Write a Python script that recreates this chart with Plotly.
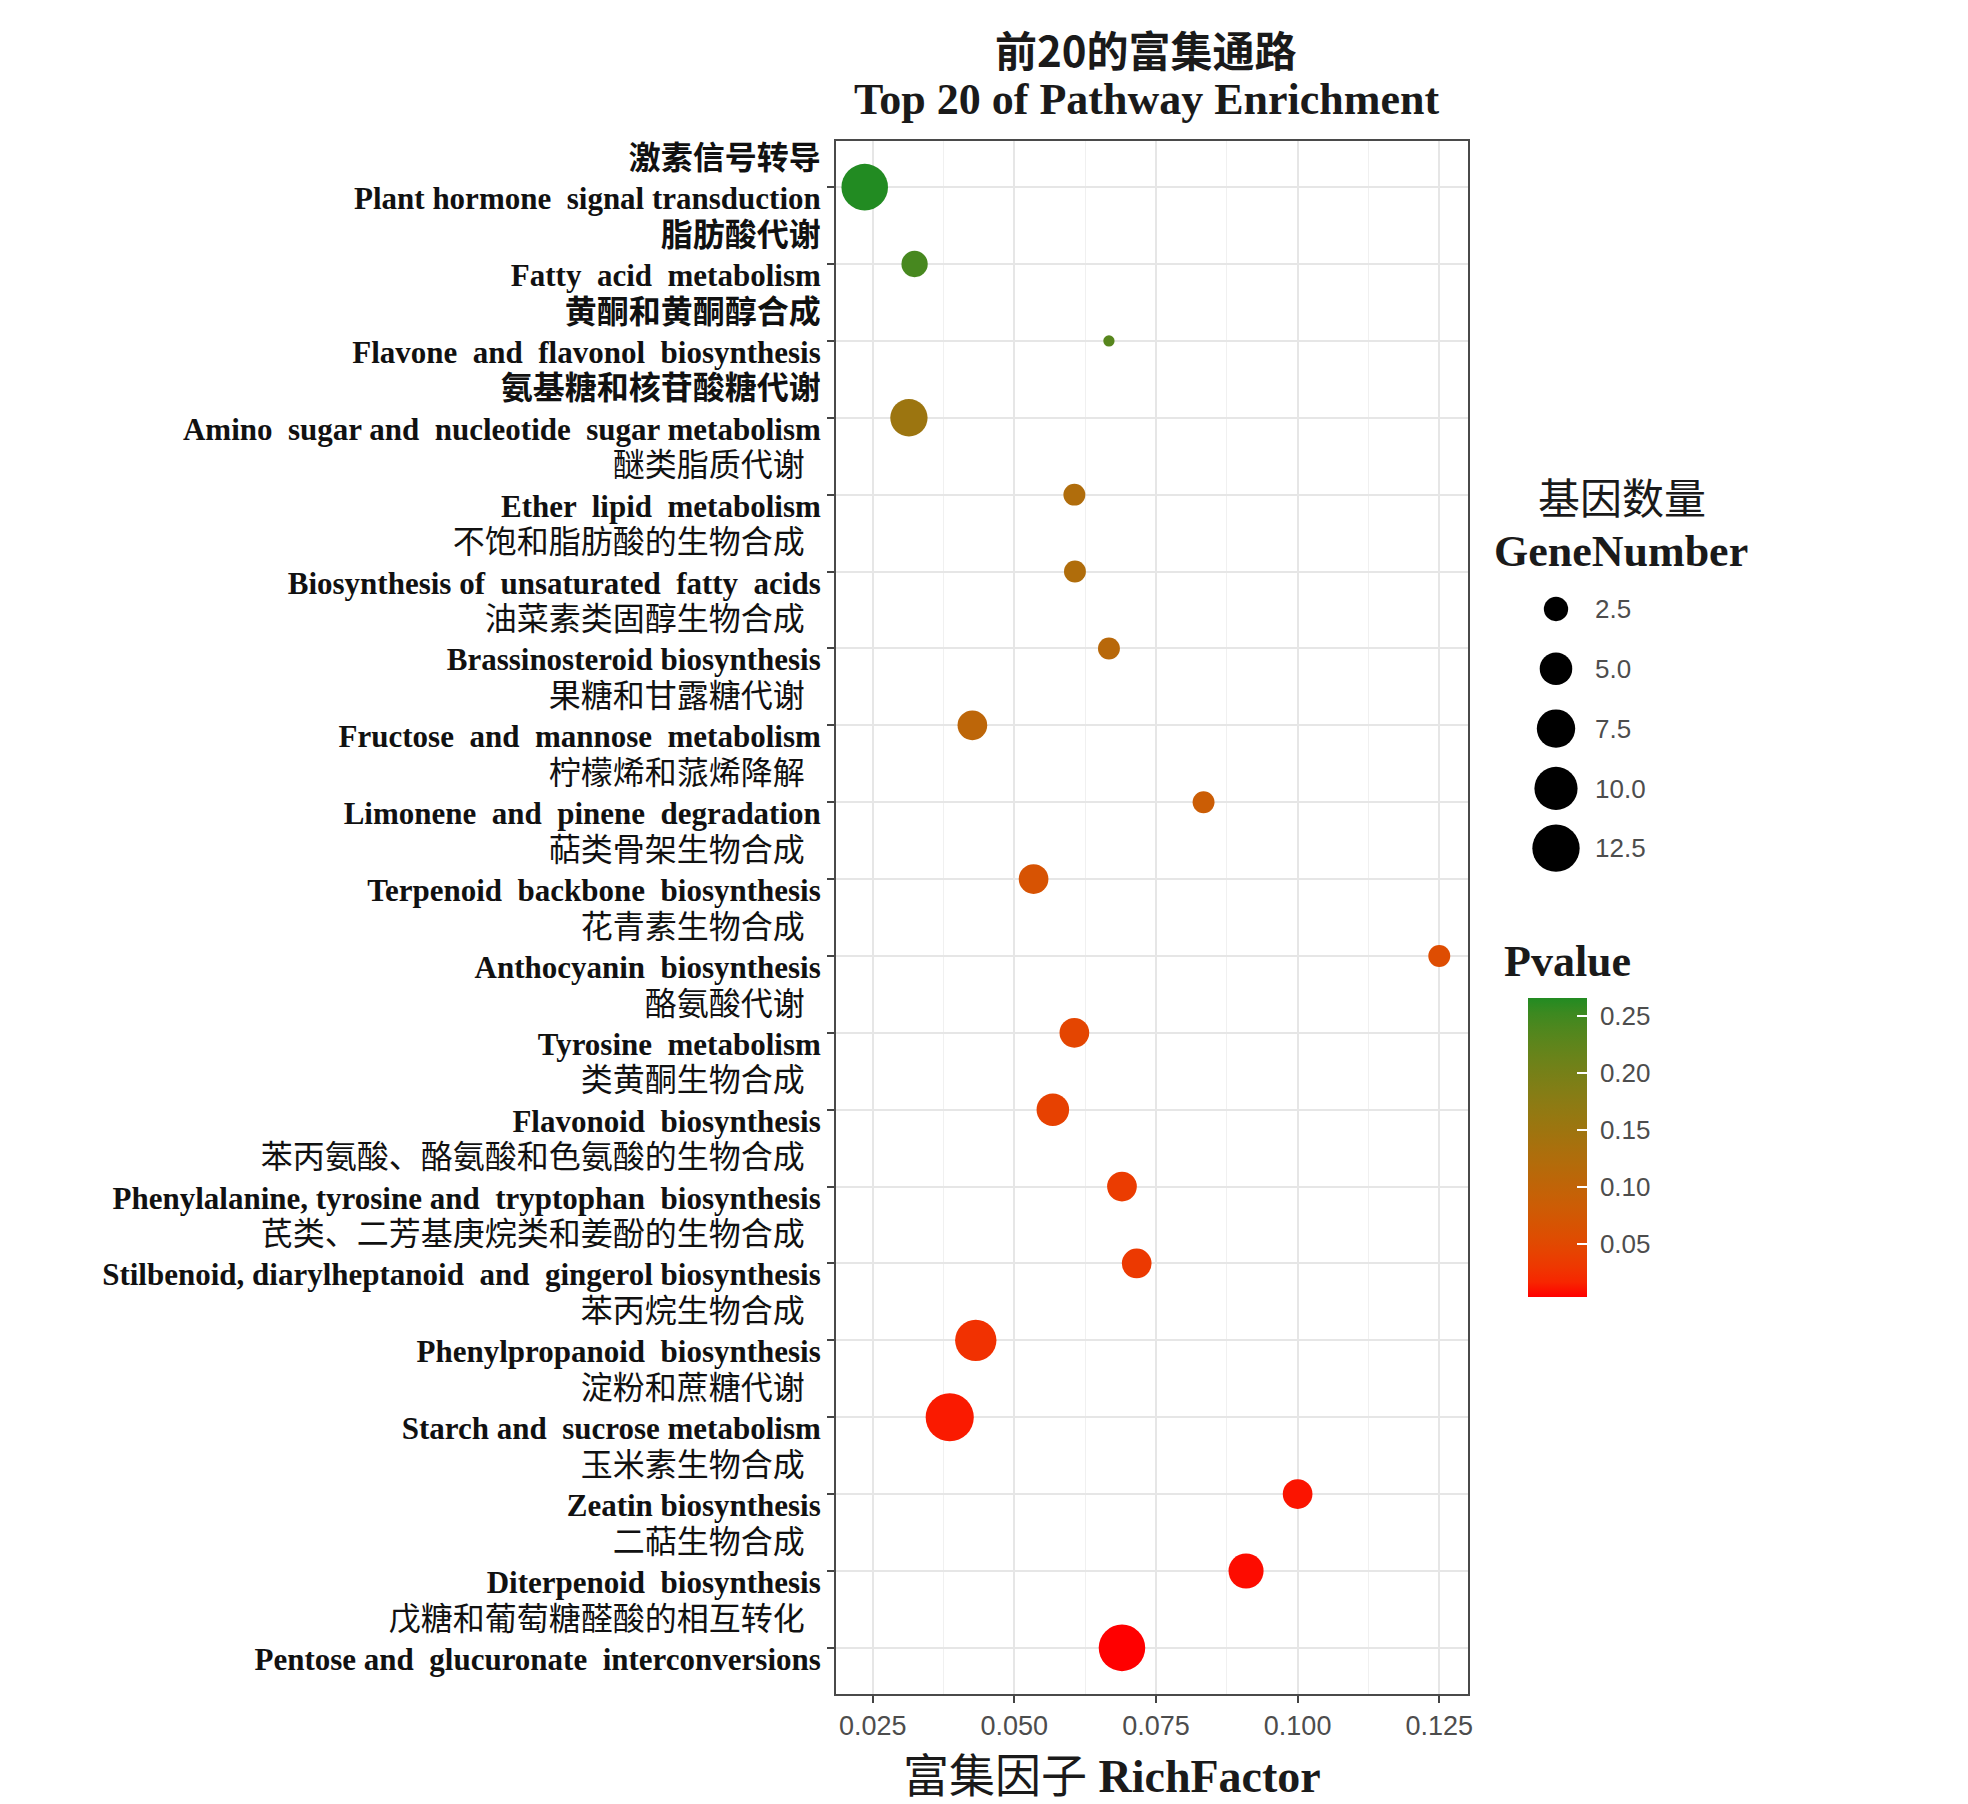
import numpy as np
import plotly.graph_objects as go

# ---------------- data (top row first) ----------------
pathways_cn = [
    "激素信号转导", "脂肪酸代谢", "黄酮和黄酮醇合成", "氨基糖和核苷酸糖代谢",
    "醚类脂质代谢", "不饱和脂肪酸的生物合成", "油菜素类固醇生物合成", "果糖和甘露糖代谢",
    "柠檬烯和蒎烯降解", "萜类骨架生物合成", "花青素生物合成", "酪氨酸代谢",
    "类黄酮生物合成", "苯丙氨酸、酪氨酸和色氨酸的生物合成", "芪类、二芳基庚烷类和姜酚的生物合成",
    "苯丙烷生物合成", "淀粉和蔗糖代谢", "玉米素生物合成", "二萜生物合成",
    "戊糖和葡萄糖醛酸的相互转化",
]
pathways_en = [
    "Plant hormone  signal transduction", "Fatty  acid  metabolism",
    "Flavone  and  flavonol  biosynthesis", "Amino  sugar and  nucleotide  sugar metabolism",
    "Ether  lipid  metabolism", "Biosynthesis of  unsaturated  fatty  acids",
    "Brassinosteroid biosynthesis", "Fructose  and  mannose  metabolism",
    "Limonene  and  pinene  degradation", "Terpenoid  backbone  biosynthesis",
    "Anthocyanin  biosynthesis", "Tyrosine  metabolism", "Flavonoid  biosynthesis",
    "Phenylalanine, tyrosine and  tryptophan  biosynthesis",
    "Stilbenoid, diarylheptanoid  and  gingerol biosynthesis",
    "Phenylpropanoid  biosynthesis", "Starch and  sucrose metabolism",
    "Zeatin biosynthesis", "Diterpenoid  biosynthesis",
    "Pentose and  glucuronate  interconversions",
]
rich_factor = [0.0236, 0.0324, 0.0667, 0.0314, 0.0606, 0.0607, 0.0667, 0.0426, 0.0834, 0.0534,
               0.1250, 0.0606, 0.0568, 0.0690, 0.0716, 0.0432, 0.0386, 0.1000, 0.0909, 0.0690]
gene_number = [12, 3, 1, 7, 2, 2, 2, 4, 2, 4, 2, 4, 5, 4, 4, 9, 13, 4, 6, 12]
p_value = [0.266, 0.245, 0.232, 0.152, 0.125, 0.124, 0.112, 0.105, 0.085, 0.066,
           0.055, 0.045, 0.040, 0.035, 0.032, 0.025, 0.012, 0.010, 0.007, 0.003]

x_ticks = [0.025, 0.050, 0.075, 0.100, 0.125]
size_legend_values = [2.5, 5.0, 7.5, 10.0, 12.5]
colorbar_ticks = [0.05, 0.10, 0.15, 0.20, 0.25]

# ---------------- layout geometry (pixels) ----------------
W, H = 1968, 1804
PL, PR, PT, PB = 836, 1468, 141, 1694


def fx(px):
    return px / W


def fy(py):
    return 1 - py / H


# ---------------- size scale (ggplot-like area palette) ----------------
nmin, nmax = min(gene_number), max(gene_number)


def dot_size(n):
    n = np.asarray(n, dtype=float)
    return 11.3 + 36.8 * np.sqrt(np.clip((n - nmin) / (nmax - nmin), 0, None))


# ---------------- colour scale (Lab interpolation red -> forestgreen) ----------------
M = np.array([[0.4124, 0.3576, 0.1805], [0.2126, 0.7152, 0.0722], [0.0193, 0.1192, 0.9505]])
WHITE = M @ np.ones(3)


def _lin(c):
    c = np.asarray(c, float) / 255
    return np.where(c <= 0.04045, c / 12.92, ((c + 0.055) / 1.055) ** 2.4)


def _delin(c):
    c = np.clip(c, 0, 1)
    return np.where(c <= 0.0031308, 12.92 * c, 1.055 * c ** (1 / 2.4) - 0.055) * 255


def _f(t):
    d = 6 / 29
    return np.where(t > d ** 3, np.cbrt(t), t / (3 * d * d) + 4 / 29)


def _finv(t):
    d = 6 / 29
    return np.where(t > d, t ** 3, 3 * d * d * (t - 4 / 29))


def rgb2lab(rgb):
    xyz = M @ _lin(rgb)
    a, b, c = _f(xyz / WHITE)
    return np.array([116 * b - 16, 500 * (a - b), 200 * (b - c)])


def lab2rgb(lab):
    L, a, b = lab
    fyv = (L + 16) / 116
    xyz = WHITE * np.array([_finv(fyv + a / 500), _finv(fyv), _finv(fyv - b / 200)])
    return _delin(np.linalg.solve(M, xyz))


low_lab, high_lab = rgb2lab([255, 0, 0]), rgb2lab([34, 139, 34])
colorscale = []
for t in np.linspace(0, 1, 21):
    r, g, b = lab2rgb(low_lab + (high_lab - low_lab) * t)
    colorscale.append([float(t), f"rgb({int(round(r))},{int(round(g))},{int(round(b))})"])

# ---------------- tick labels ----------------
ticktext = []
for i, (cn, en) in enumerate(zip(pathways_cn, pathways_en)):
    cn_html = f"<b>{cn}</b>" if i < 4 else cn + "\u00a0\u00a0"
    ticktext.append(f"<span style='font-size:32px'>{cn_html}</span><br><b>{en}</b>")

SERIF = "Liberation Serif, Noto Sans CJK SC, serif"
SANS = "Liberation Sans, Arial, sans-serif"
CJK = "Noto Sans CJK SC, sans-serif"

xr = max(rich_factor) - min(rich_factor)
x_range = [min(rich_factor) - 0.05 * xr, max(rich_factor) + 0.05 * xr]
ncat = len(pathways_en)

fig = go.Figure()

fig.add_trace(go.Scatter(
    x=rich_factor, y=pathways_en, mode="markers",
    marker=dict(
        size=dot_size(gene_number), sizemode="diameter",
        color=p_value, colorscale=colorscale,
        cmin=min(p_value), cmax=max(p_value),
        line=dict(width=0), opacity=1,
        colorbar=dict(
            thickness=59, thicknessmode="pixels", len=299, lenmode="pixels",
            x=fx(1528), xanchor="left", y=fy(998), yanchor="top",
            xpad=0, ypad=0, outlinewidth=0,
            tickvals=colorbar_ticks, ticktext=["\u00a0" + f"{v:.2f}" for v in colorbar_ticks],
            ticks="inside", ticklen=10, tickwidth=2, tickcolor="white",
            tickfont=dict(family=SANS, size=26, color="#4d4d4d"),
        ),
    ),
    showlegend=False, hoverinfo="skip",
))

# size legend keys on their own small axes
fig.add_trace(go.Scatter(
    x=["GeneNumber"] * len(size_legend_values), y=size_legend_values, mode="markers",
    marker=dict(size=dot_size(size_legend_values), sizemode="diameter", color="#000000",
                opacity=1, line=dict(width=0)),
    xaxis="x2", yaxis="y2", showlegend=False, hoverinfo="skip",
))

step = size_legend_values[1] - size_legend_values[0]

fig.update_layout(
    width=W, height=H, template="none",
    margin=dict(l=0, r=0, t=0, b=0),
    paper_bgcolor="white", plot_bgcolor="white",
    xaxis=dict(
        domain=[fx(PL), fx(PR)], range=x_range, anchor="y",
        tickvals=x_ticks, ticktext=[f"{v:.3f}" for v in x_ticks],
        tickfont=dict(family=SANS, size=27, color="#4d4d4d"),
        ticks="outside", ticklen=7, tickwidth=2, tickcolor="#444444",
        showgrid=True, gridcolor="#e6e6e6", gridwidth=2,
        minor=dict(dtick=0.0125, tick0=0.0125, showgrid=True, gridcolor="#f0f0f0", gridwidth=1),
        showline=True, mirror=True, linecolor="#4a4a4a", linewidth=2,
        zeroline=False, automargin=False,
    ),
    yaxis=dict(
        domain=[fy(PB), fy(PT)], anchor="x",
        type="category", categoryorder="array", categoryarray=pathways_en,
        range=[ncat - 1 + 0.6, -0.6],
        tickvals=pathways_en, ticktext=ticktext,
        tickfont=dict(family=SERIF, size=31, color="#111111"),
        ticks="outside", ticklen=7, tickwidth=2, tickcolor="#444444",
        ticklabelshift=9,
        showgrid=True, gridcolor="#e6e6e6", gridwidth=2,
        showline=True, mirror=True, linecolor="#4a4a4a", linewidth=2,
        zeroline=False, automargin=False,
    ),
    xaxis2=dict(domain=[fx(1530), fx(1582)], anchor="y2", visible=False, type="category"),
    yaxis2=dict(
        domain=[fy(609 + 29.9 * 9), fy(609 - 29.9)], anchor="x2", side="right",
        range=[size_legend_values[-1] + step / 2, size_legend_values[0] - step / 2],
        tickvals=size_legend_values, ticktext=[f"{v:.1f}" for v in size_legend_values],
        tickfont=dict(family=SANS, size=26, color="#4d4d4d"),
        ticklabelstandoff=12,
        showgrid=False, zeroline=False, showline=False, ticks="", automargin=False,
    ),
)

annotations = [
    dict(text="<b>前20的富集通路</b>", x=fx(1146), y=fy(48), font=dict(family=CJK, size=42, color="#1a1a1a")),
    dict(text="<b>Top 20 of Pathway Enrichment</b>", x=fx(1146), y=fy(100),
         font=dict(family=SERIF, size=44, color="#1a1a1a")),
    dict(text="富集因子 <b>RichFactor</b>", x=fx(1112), y=fy(1776),
         font=dict(family=SERIF, size=46, color="#1a1a1a")),
    dict(text="基因数量", x=fx(1622), y=fy(496), font=dict(family=CJK, size=42, color="#1a1a1a")),
    dict(text="<b>GeneNumber</b>", x=fx(1621), y=fy(552), font=dict(family=SERIF, size=44, color="#1a1a1a")),
    dict(text="<b>Pvalue</b>", x=fx(1502), y=fy(961), xanchor="left",
         font=dict(family=SERIF, size=44, color="#1a1a1a")),
]
for a in annotations:
    a.setdefault("xanchor", "center")
    a.update(xref="paper", yref="paper", yanchor="middle", showarrow=False)
fig.update_layout(annotations=annotations)

fig.write_html("out.html")
